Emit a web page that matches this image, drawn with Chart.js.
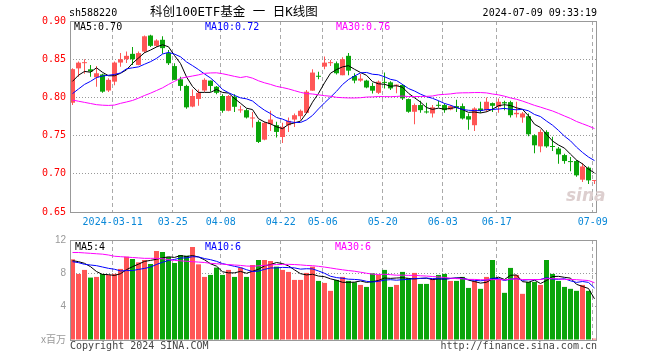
<!DOCTYPE html>
<html>
<head>
<meta charset="utf-8">
<script src="https://cdn.jsdelivr.net/npm/chart.js@4/dist/chart.umd.min.js"></script>
<style>
  body { margin: 0; background: #fff; }
  #wrap { position: relative; width: 660px; height: 360px; overflow: hidden; }
  canvas { position: absolute; left: 0; top: 0; }
  .t { position: absolute; font: 10px/12px "DejaVu Sans Mono", monospace; white-space: pre; color: #000; }
</style>
</head>
<body>
<div id="wrap">
  <canvas id="k" width="660" height="360"></canvas>
  <canvas id="v" width="660" height="360"></canvas>
  <div class="t" style="left:69px;top:7px">sh588220</div>
  <div class="t" style="left:150px;top:5px;font-size:12.5px;line-height:14px;font-family:'DejaVu Sans Mono','Noto Sans CJK SC',monospace">科创100ETF基金 一 日K线图</div>
  <div class="t" style="right:63px;top:7px">2024-07-09 09:33:19</div>
  <div class="t" style="left:74px;top:21px">MA5:0.70</div>
  <div class="t" style="left:205px;top:21px;color:#0000ff">MA10:0.72</div>
  <div class="t" style="left:336px;top:21px;color:#ff00ff">MA30:0.76</div>
  <div class="t" style="left:75px;top:241px">MA5:4</div>
  <div class="t" style="left:205px;top:241px;color:#0000ff">MA10:6</div>
  <div class="t" style="left:335px;top:241px;color:#ff00ff">MA30:6</div>
  <div class="t" style="left:70px;top:340px;color:#444">Copyright 2024 SINA.COM</div>
  <div class="t" style="right:63px;top:340px;color:#444">http://finance.sina.com.cn</div>
  <div class="t" style="left:566px;top:186px;font:italic bold 17px/18px 'DejaVu Sans',sans-serif;color:#ddcfcf">sina</div>
</div>
<script>
// daily candles, 2024-02-29 .. 2024-07-09
const open = [0.793,0.838,0.8448,0.8368,0.8263,0.830,0.809,0.8206,0.8456,0.850,
  0.857,0.8425,0.860,0.881,0.8675,0.8754,0.858,0.841,0.8237,0.815,
  0.788,0.798,0.809,0.822,0.814,0.8018,0.7825,0.801,0.783,0.7833,
  0.7724,0.768,0.7447,0.765,0.7636,0.7482,0.7636,0.771,0.7754,0.7798,
  0.8088,0.8277,0.8403,0.8448,0.8447,0.829,0.8544,0.828,0.822,0.822,
  0.815,0.806,0.8202,0.8197,0.8154,0.8162,0.7978,0.7812,0.790,0.7807,
  0.779,0.7903,0.790,0.7842,0.7886,0.7886,0.7754,0.7636,0.7855,0.7833,
  0.7925,0.7877,0.7938,0.7938,0.778,0.7737,0.7754,0.7504,0.7359,0.7548,
  0.7355,0.733,0.7245,0.716,0.7167,0.6923,0.708,0.6905];
const high = [0.838,0.847,0.850,0.8425,0.841,0.831,0.825,0.847,0.858,0.860,
  0.866,0.860,0.881,0.882,0.876,0.880,0.862,0.8447,0.827,0.8165,
  0.8105,0.8105,0.825,0.822,0.815,0.804,0.803,0.804,0.789,0.785,
  0.781,0.770,0.768,0.7825,0.768,0.7667,0.7737,0.779,0.7842,0.8096,
  0.8368,0.8337,0.8535,0.849,0.847,0.8526,0.858,0.8316,0.8307,0.823,
  0.8193,0.822,0.8325,0.821,0.817,0.8175,0.7987,0.792,0.7956,0.793,
  0.790,0.7956,0.792,0.790,0.797,0.792,0.779,0.787,0.7943,0.800,
  0.7934,0.7987,0.7956,0.7956,0.7943,0.781,0.779,0.7517,0.758,0.757,
  0.7486,0.735,0.7263,0.722,0.718,0.714,0.7096,0.6908];
const low = [0.790,0.827,0.831,0.827,0.814,0.806,0.807,0.816,0.840,0.845,
  0.8425,0.842,0.858,0.866,0.866,0.857,0.8425,0.8228,0.8088,0.785,
  0.787,0.789,0.807,0.8075,0.804,0.780,0.782,0.781,0.780,0.7724,
  0.7605,0.7403,0.744,0.756,0.7474,0.7403,0.7548,0.7614,0.771,0.7798,
  0.8088,0.8237,0.837,0.841,0.830,0.829,0.829,0.8184,0.8206,0.812,
  0.805,0.8045,0.8118,0.8096,0.8053,0.7965,0.780,0.7649,0.780,0.779,
  0.7737,0.7868,0.780,0.7833,0.781,0.771,0.7575,0.756,0.780,0.781,
  0.781,0.780,0.7833,0.7737,0.7737,0.7667,0.749,0.7268,0.7281,0.7342,
  0.7298,0.7132,0.7132,0.7035,0.696,0.6893,0.6866,0.6866];
const close = [0.837,0.8455,0.8455,0.834,0.8316,0.8075,0.823,0.8456,0.850,0.8544,
  0.850,0.858,0.880,0.8675,0.8745,0.8645,0.8447,0.823,0.815,0.787,
  0.8018,0.806,0.823,0.815,0.806,0.7825,0.8018,0.7877,0.7835,0.7737,
  0.7737,0.7417,0.7667,0.771,0.7548,0.7614,0.7693,0.7767,0.7825,0.8075,
  0.8325,0.827,0.8455,0.8455,0.8316,0.850,0.835,0.822,0.8246,0.813,
  0.8088,0.8206,0.819,0.8118,0.8162,0.7987,0.7812,0.790,0.7833,0.7803,
  0.787,0.789,0.7833,0.7886,0.7868,0.7724,0.771,0.7855,0.7825,0.7943,
  0.789,0.7943,0.7921,0.7767,0.7798,0.779,0.7517,0.7373,0.7548,0.7359,
  0.7351,0.7254,0.7167,0.7153,0.698,0.7096,0.6914,0.6908];
// volume, millions
const volume = [9.68,7.93,8.41,7.49,7.57,7.93,7.81,7.93,8.53,10.0,
  9.72,9.32,9.6,9.12,10.68,10.56,9.96,9.24,10.2,10.12,
  11.16,9.08,7.57,7.81,8.69,7.81,8.41,7.57,8.69,7.57,
  9.0,9.6,9.6,9.48,8.8,8.41,8.17,7.21,7.21,8.05,
  8.8,7.09,6.85,5.9,7.21,7.57,7.09,6.93,6.61,6.37,
  8.0,7.81,8.41,6.37,6.61,8.17,7.41,8.05,6.73,6.73,
  7.33,7.81,7.93,7.09,7.09,7.57,6.25,7.09,6.14,7.57,
  9.6,7.33,5.66,8.65,7.81,5.54,6.97,6.97,6.61,9.6,
  7.93,7.09,6.37,6.14,5.9,6.61,5.9,0.16];

// moving-average values before enough history is on the chart
const ma5Lead = [0.821,0.829,0.834,0.833];
const ma10Lead = [0.805,0.811,0.817,0.821,0.826,0.828,0.829,0.830,0.832];
const ma30Lead = [0.7965,0.795,0.7935,0.792,0.7905,0.7898,0.7895,0.790,0.7922,0.794,
  0.796,0.799,0.8025,0.8055,0.809,0.8125,0.817,0.821,0.825,0.8265,
  0.828,0.8295,0.8315,0.832,0.8322,0.831,0.8293,0.8275,0.826];
const volMa5Lead = [9.52,9.4,9.2,8.8];
const volMa10Lead = [9.4,9.28,9.08,9.0,8.92,8.76,8.6,8.49,8.29];
const volMa30Lead = [10.5,10.5,10.45,10.4,10.35,10.3,10.2,10.05,10.0,9.95,
  9.9,9.85,9.8,9.8,9.8,9.75,9.65,9.55,9.5,9.45,
  9.4,9.35,9.3,9.2,9.15,9.1,9.05,9.0,8.95];

const tickIdx = [7,17,25,35,42,52,62,71,87];
const tickLabels = ["2024-03-11","03-25","04-08","04-22","05-06","05-20","06-03","06-17","07-09"];

const RED = "#ff5656", GREEN = "#0aa50a";
const up = close.map((c, i) => c >= open[i]);
const colors = up.map(u => u ? RED : GREEN);

function movingAvg(values, n, lead) {
    return values.map((v, i) => {
        if (i < n - 1) return lead[i];
        let s = 0;
        for (let k = i - n + 1; k <= i; k++) s += values[k];
        return s / n;
    });
}
const pts = arr => arr.map((y, x) => ({ x, y }));

const mono = { family: "DejaVu Sans Mono", size: 10 };
const xMin = -0.4167, xMax = 87.4167;

const frame = {
    id: "frame",
    afterDraw(chart) {
        const a = chart.chartArea, ctx = chart.ctx;
        ctx.save();
        ctx.strokeStyle = "#999";
        ctx.lineWidth = 1;
        ctx.strokeRect(a.left + 0.5, a.top + 0.5, a.right - a.left - 1, a.bottom - a.top);
        ctx.restore();
    }
};

function xAxis(showLabels) {
    return {
        type: "linear", min: xMin, max: xMax, offset: false,
        afterBuildTicks: s => { s.ticks = tickIdx.map(i => ({ value: i - 0.3 })); },
        afterFit: s => { s.height = showLabels ? 20 : 0; },
        grid: { color: "#aaa", drawTicks: false, offset: false },
        border: { display: false, dash: [4, 3] },
        ticks: {
            display: showLabels, autoSkip: false, maxRotation: 0, padding: 4,
            color: "#0a88d8", font: mono,
            callback: (v, i) => tickLabels[i]
        }
    };
}

const midGrid = c => (c.index === 0 || c.index === c.scale.ticks.length - 1) ? "rgba(0,0,0,0)" : "#999";

const lineSet = (data, color) => ({
    type: "line", data: pts(data), borderColor: color, borderWidth: 1,
    pointRadius: 0, tension: 0, order: 0
});

new Chart(document.getElementById("k"), {
    data: {
        datasets: [
            { type: "bar", data: low.map((l, i) => ({ x: i, y: [l, high[i]] })),
              backgroundColor: colors, barThickness: 1, grouped: false, inflateAmount: 0, order: 3 },
            { type: "bar", data: open.map((o, i) => ({ x: i, y: [o, close[i]] })),
              backgroundColor: colors, barThickness: 5, grouped: false, inflateAmount: 0, minBarLength: 1, order: 2 },
            lineSet(movingAvg(close, 30, ma30Lead), "#ff00ff"),
            lineSet(movingAvg(close, 10, ma10Lead), "#0000ff"),
            lineSet(movingAvg(close, 5, ma5Lead), "#000000")
        ]
    },
    options: {
        responsive: false, animation: false, events: [],
        layout: { padding: { top: 21, right: 63, bottom: 128, left: 0 } },
        scales: {
            x: xAxis(true),
            y: {
                min: 0.65, max: 0.90,
                afterFit: s => { s.width = 70; },
                ticks: { stepSize: 0.05, color: "#ff0000", font: mono, padding: 4,
                         callback: v => v.toFixed(2) },
                grid: { color: midGrid, drawTicks: false },
                border: { display: false, dash: [1, 2] }
            }
        },
        plugins: { legend: { display: false }, tooltip: { enabled: false } }
    },
    plugins: [frame]
});

new Chart(document.getElementById("v"), {
    data: {
        datasets: [
            { type: "bar", data: pts(volume), backgroundColor: colors, barThickness: 5,
              grouped: false, inflateAmount: 0, order: 2 },
            lineSet(movingAvg(volume, 30, volMa30Lead), "#ff00ff"),
            lineSet(movingAvg(volume, 10, volMa10Lead), "#0000ff"),
            lineSet(movingAvg(volume, 5, volMa5Lead), "#000000")
        ]
    },
    options: {
        responsive: false, animation: false, events: [],
        layout: { padding: { top: 240, right: 63, bottom: 20, left: 0 } },
        scales: {
            x: xAxis(false),
            y: {
                min: 0, max: 12,
                afterFit: s => { s.width = 70; },
                ticks: { stepSize: 4, color: "#999", padding: 4,
                         font: { family: "Liberation Sans, Noto Sans CJK SC", size: 10 },
                         callback: v => v === 0 ? "x百万" : v },
                grid: { color: midGrid, drawTicks: false },
                border: { display: false, dash: [1, 2] }
            }
        },
        plugins: { legend: { display: false }, tooltip: { enabled: false } }
    },
    plugins: [frame]
});
</script>
</body>
</html>
